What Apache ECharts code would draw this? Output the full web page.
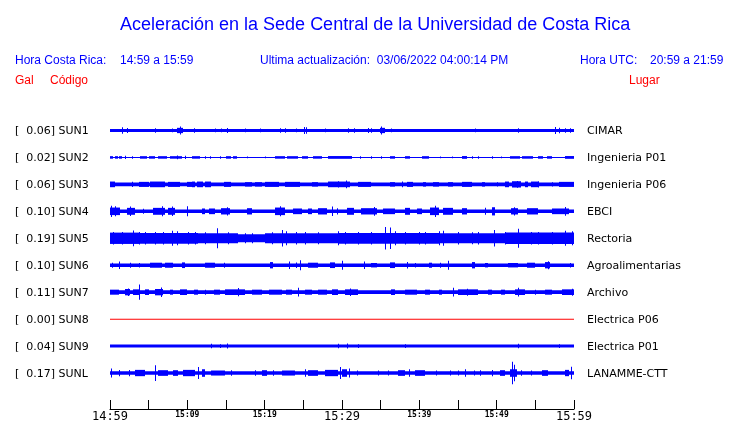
<!DOCTYPE html>
<html>
<head>
<meta charset="utf-8">
<script src="https://cdn.jsdelivr.net/npm/echarts@6/dist/echarts.min.js"></script>
<style>html,body{margin:0;padding:0;background:#fff}#c{width:740px;height:423px}</style>
</head>
<body>
<div id="c"></div>
<script>
// ---- data ----
const codes = ['SUN1','SUN2','SUN3','SUN4','SUN5','SUN6','SUN7','SUN8','SUN9','SUNL'];
const peakGal = [0.06,0.02,0.06,0.10,0.19,0.10,0.11,0.00,0.04,0.17];
const places = ['CIMAR','Ingenieria P01','Ingenieria P06','EBCI','Rectoria','Agroalimentarias','Archivo','Electrica P06','Electrica P01','LANAMME-CTT'];
const tickLabels = ['14:59','15:09','15:19','15:29','15:39','15:49','15:59'];
// background (noise) half-amplitude, Gal
const baseAmp = [0.024,0.008,0.03,0.027,0.062,0.027,0.03,0,0.024,0.027];
// bursts: [startMinute, endMinute, halfAmplitude Gal]
const sun1 = [[1.6,1.6,.053],[2.2,2.2,.04],[5.8,5.8,.035],[8.0,8.0,.03],[8.6,9.5,.042],[9.05,9.05,.062],[10.8,10.8,.035],[13.6,13.6,.03],[14.4,14.4,.03],[15.1,15.1,.04],[17.5,17.5,.03],[19.4,19.4,.03],[22.0,22.0,.035],[22.6,22.6,.035],[24.1,24.1,.03],[25.1,25.1,.055],[25.4,25.4,.05],[27.8,27.8,.03],[30.8,30.8,.035],[31.5,31.5,.035],[33.4,33.4,.04],[33.7,33.7,.035],[34.9,35.6,.042],[35.1,35.1,.062],[36.4,36.4,.03],[47.2,47.2,.03],[52.8,52.8,.035],[57.6,57.6,.055],[58.1,58.1,.045],[58.8,58.8,.035],[59.5,59.5,.035]];
const sun2 = [[0,0.4,.02],[0.6,1.0,.02],[1.2,1.5,.02],[1.9,1.9,.025],[2.8,2.8,.02],[3.9,4.8,.02],[5.1,5.8,.02],[6.25,7.4,.02],[7.7,9.3,.02],[8.6,8.6,.03],[9.7,9.7,.025],[10.6,11.6,.02],[12.3,12.3,.02],[12.9,12.9,.02],[14.2,14.2,.02],[15.0,15.6,.02],[15.9,16.4,.02],[17.7,17.7,.015],[20.0,20.0,.015],[21.3,22.6,.02],[22.9,24.3,.02],[24.8,25.6,.02],[26.3,27.4,.02],[28.2,31.25,.022],[32.3,32.3,.02],[33.8,33.8,.02],[35.1,35.1,.02],[36.2,36.9,.02],[38.1,38.8,.02],[40.3,41.2,.02],[42.7,42.7,.015],[44.2,44.2,.015],[45.5,46.1,.022],[46.8,46.8,.02],[47.6,47.6,.02],[49.4,49.4,.02],[50.6,50.6,.015],[51.7,53.0,.02],[53.3,54.7,.02],[55.4,56.0,.02],[56.5,57.1,.02],[58.8,60,.022]];
const sun3 = [[0,0.6,.045],[2.8,2.8,.04],[3.7,5.0,.04],[5.2,7.1,.045],[7.5,9.05,.04],[9.9,10.6,.04],[10.6,11.0,.045],[11.3,12.0,.045],[12.3,13.1,.045],[14.7,15.7,.04],[17.5,18.3,.035],[18.75,19.6,.035],[20.0,21.8,.04],[22.6,24.6,.04],[26.1,26.9,.035],[28.2,31.0,.045],[29.5,29.5,.05],[30.5,30.5,.06],[32.1,33.8,.04],[36.2,36.9,.035],[37.7,37.7,.045],[38.4,39.2,.04],[40.5,40.9,.035],[41.8,42.5,.035],[43.75,44.4,.035],[45.5,46.8,.04],[48.1,48.5,.035],[50.0,50.0,.035],[51.1,51.6,.045],[52.0,53.2,.05],[52.6,52.6,.055],[53.6,54.0,.045],[54.5,55.4,.045],[55.4,55.4,.05],[57.1,57.1,.035],[58.0,60,.04]];
const sun4 = [[0,1.3,.06],[0.1,0.1,.09],[0.65,0.65,.08],[2.2,3.2,.055],[2.6,2.6,.075],[4.3,4.3,.04],[5.6,7.1,.055],[6.7,6.7,.08],[7.5,8.4,.055],[8.0,8.0,.075],[10.0,10.0,.08],[11.85,12.3,.045],[12.8,13.6,.045],[14.4,15.5,.05],[15.1,15.1,.065],[17.7,18.3,.05],[21.3,22.6,.06],[22.0,22.0,.08],[23.7,24.8,.045],[25.6,26.1,.045],[26.9,28.0,.05],[28.7,28.7,.075],[29.3,29.3,.05],[30.6,31.5,.055],[32.5,34.5,.05],[34.1,34.1,.07],[35.3,36.9,.045],[38.1,38.8,.055],[39.7,40.3,.045],[41.4,42.5,.06],[42.0,42.0,.09],[43.1,44.4,.055],[45.5,46.1,.05],[48.5,48.5,.055],[49.4,49.8,.065],[51.9,52.8,.05],[52.2,52.2,.065],[53.9,55.4,.05],[57.1,59.3,.045],[58.8,58.8,.07]];
const sun5 = [[0,3.7,.09],[3.7,11.4,.085],[11.4,16.6,.08],[20.0,29.5,.08],[29.5,42.5,.085],[42.5,51.1,.08],[51.1,60,.09],
  [0.4,0.4,.1],[1.5,1.5,.1],[3.0,3.0,.125],[3.7,3.7,.1],[4.5,4.5,.1],[5.8,5.8,.1],[6.9,6.9,.1],[8.0,8.0,.12],[8.6,8.6,.11],[10.1,10.1,.1],[11.0,11.0,.1],[12.3,12.3,.095],[13.8,13.8,.16],[15.3,15.3,.095],[17.5,17.5,.08],[18.3,18.3,.08],[20.9,20.9,.095],[22.2,22.2,.13],[22.8,22.8,.11],[24.1,24.1,.1],[25.2,25.2,.1],[26.9,26.9,.095],[29.5,29.5,.11],[30.4,30.4,.1],[32.1,32.1,.1],[33.8,33.8,.1],[35.6,35.6,.18],[36.2,36.2,.17],[36.9,36.9,.11],[38.1,38.1,.1],[39.9,39.9,.1],[40.7,40.7,.1],[42.5,42.5,.11],[43.1,43.1,.12],[45.0,45.0,.1],[46.8,46.8,.095],[47.6,47.6,.1],[49.6,49.6,.13],[51.1,51.1,.1],[52.8,52.8,.15],[54.5,54.5,.1],[55.4,55.4,.1],[57.1,57.1,.1],[58.8,58.8,.12],[59.7,59.7,.11]];
const sun6 = [[0.2,0.2,.04],[1.1,1.1,.06],[2.6,2.6,.04],[3.7,3.7,.035],[5.2,6.7,.04],[7.1,8.2,.04],[9.3,9.7,.045],[12.3,13.6,.04],[14.7,14.7,.04],[20.7,21.1,.05],[23.2,23.2,.06],[24.1,24.1,.045],[24.6,24.6,.08],[25.6,26.9,.04],[28.4,29.1,.045],[30.0,30.0,.07],[32.8,32.8,.06],[33.8,34.5,.035],[36.2,36.9,.045],[38.4,38.4,.05],[39.4,39.4,.035],[41.2,41.6,.04],[42.7,42.7,.04],[43.75,43.75,.07],[46.8,47.2,.05],[48.5,48.9,.035],[51.5,52.8,.035],[53.9,55.0,.04],[56.3,56.9,.05],[56.6,56.6,.065],[59.5,59.5,.035]];
const sun7 = [[0,1.1,.04],[1.9,2.6,.05],[2.3,2.3,.06],[3.0,3.7,.045],[3.8,3.8,.12],[4.5,5.0,.045],[5.8,6.9,.05],[6.6,6.6,.075],[7.8,8.2,.04],[9.05,9.9,.045],[10.8,11.4,.04],[12.3,12.3,.04],[13.4,14.2,.04],[14.9,17.5,.045],[16.6,16.6,.065],[18.3,19.6,.04],[20.5,22.2,.04],[22.8,23.5,.04],[24.3,24.3,.07],[25.2,26.1,.04],[26.9,28.0,.04],[28.7,29.5,.045],[30.4,32.1,.045],[31.0,31.0,.06],[36.4,36.9,.045],[38.1,39.7,.04],[40.7,41.4,.04],[42.5,42.9,.04],[44.4,44.4,.07],[45.0,47.6,.045],[46.1,46.1,.055],[48.9,49.4,.04],[50.6,51.1,.04],[52.4,53.7,.045],[52.8,52.8,.07],[55.0,55.0,.04],[56.25,57.1,.04],[58.4,60,.045],[59.7,59.7,.055]];
const sun8 = [];
const sun9 = [[13.1,13.1,.035],[14.2,14.2,.03],[15.1,15.1,.04],[29.5,29.5,.035],[30.6,30.6,.04],[32.1,32.1,.03],[38.1,38.1,.03],[52.8,52.8,.035],[58.0,58.0,.03]];
const sunL = [[0.1,0.1,.07],[1.1,1.3,.05],[2.4,2.4,.05],[3.2,4.5,.05],[5.8,5.8,.125],[6.25,7.5,.045],[8.2,8.8,.045],[9.5,11.0,.05],[11.4,11.4,.095],[11.85,12.3,.06],[13.1,14.9,.04],[15.7,15.7,.045],[18.75,18.75,.045],[19.6,20.3,.045],[21.1,21.1,.045],[22.2,23.9,.04],[25.2,25.2,.06],[25.6,26.9,.045],[27.8,29.5,.05],[29.8,29.8,.095],[30.0,30.6,.06],[30.95,30.95,.07],[31.9,31.9,.04],[34.7,34.7,.04],[36.0,36.0,.04],[37.3,38.1,.045],[38.7,38.7,.06],[39.4,40.7,.045],[42.2,42.2,.04],[43.97,43.97,.04],[45.0,45.0,.04],[45.9,45.9,.06],[47.1,47.1,.04],[47.9,47.9,.045],[49.4,49.4,.05],[50.4,51.1,.045],[51.7,52.6,.06],[52.0,52.0,.18],[52.3,52.3,.13],[53.2,53.2,.045],[54.5,54.5,.04],[55.9,56.6,.045],[58.8,59.3,.05],[59.6,59.6,.1]];
const bursts = [sun1,sun2,sun3,sun4,sun5,sun6,sun7,sun8,sun9,sunL];

// ---- style ----
const GAIN = 63;           // px per Gal
const TRACE = '#0000ff';
const DEAD = '#ff0000';
const LABEL_FONT = 'DejaVu Sans';

const chart = echarts.init(document.getElementById('c'), null, {renderer:'canvas'});

const series = codes.map((code, i) => ({
  type: 'custom',
  name: code,
  silent: true,
  animation: false,
  coordinateSystem: 'cartesian2d',
  encode: {x: [0, 1], y: 3},
  data: [[0, 60, baseAmp[i], i + 0.5]].concat(bursts[i].map(b => [b[0], b[1], b[2], i + 0.5])),
  renderItem: (params, api) => {
    const t0 = api.value(0), t1 = api.value(1), amp = api.value(2), row = api.value(3);
    const p0 = api.coord([t0, row]);
    const p1 = api.coord([t1, row]);
    const x0 = Math.round(p0[0]);
    const w = Math.max(Math.round(p1[0]) - x0, 1);
    const h = amp * GAIN;
    const cy = p0[1];
    const dead = peakGal[i] === 0;
    const hh = Math.max(h, 0.5);
    return {
      type: 'rect',
      shape: {x: x0, y: cy - hh, width: w, height: hh * 2},
      style: {fill: dead ? DEAD : TRACE}
    };
  }
}));

series.push({
  type: 'custom',
  name: 'labels',
  silent: true,
  animation: false,
  encode: {x: 0, y: 1},
  data: codes.map((c, i) => [60, i + 0.5]),
  renderItem: (params, api) => {
    const i = params.dataIndex;
    const p = api.coord([api.value(0), api.value(1)]);
    return {
      type: 'group',
      children: [
        {type: 'text', style: {x: 15, y: p[1] + 1, text: '[  ' + peakGal[i].toFixed(2) + '] ' + codes[i],
          fill: '#000', fontSize: 11, fontFamily: LABEL_FONT, align: 'left', verticalAlign: 'middle'}},
        {type: 'text', style: {x: p[0] + 13, y: p[1] + 1, text: places[i],
          fill: '#000', fontSize: 11, fontFamily: LABEL_FONT, align: 'left', verticalAlign: 'middle'}}
      ]
    };
  }
});

const hdr = (text, x, y, color) => ({type: 'text', left: x, top: y,
  style: {text, fill: color, fontSize: 12, fontFamily: 'Liberation Sans'}});

chart.setOption({
  backgroundColor: '#fff',
  animation: false,
  title: {
    text: 'Aceleración en la Sede Central de la Universidad de Costa Rica',
    left: 115, top: 11,
    textStyle: {color: '#0000ff', fontSize: 18, fontWeight: 'normal', fontFamily: 'Liberation Sans'}
  },
  graphic: [
    hdr('Hora Costa Rica:', 15, 55, '#0000ff'),
    hdr('14:59 a 15:59', 120, 55, '#0000ff'),
    hdr('Ultima actualización:  03/06/2022 04:00:14 PM', 260, 55, '#0000ff'),
    hdr('Hora UTC:', 580, 55, '#0000ff'),
    hdr('20:59 a 21:59', 650, 55, '#0000ff'),
    hdr('Gal', 15, 75, '#ff0000'),
    hdr('Código', 50, 75, '#ff0000'),
    hdr('Lugar', 629, 75, '#ff0000')
  ],
  grid: {left: 110, right: 166, top: 117, height: 270, containLabel: false},
  xAxis: {
    type: 'value', min: 0, max: 60, interval: 5,
    position: 'bottom',
    offset: 22.5,
    splitLine: {show: false},
    axisLine: {show: true, onZero: false, lineStyle: {color: '#000', width: 1}},
    axisTick: {show: true, inside: true, length: 9, lineStyle: {color: '#000', width: 1}},
    axisLabel: {
      margin: 2,
      showMinLabel: true, showMaxLabel: true,
      formatter: v => {
        const idx = v / 10;
        if (!Number.isInteger(idx)) return '';
        const lab = tickLabels[idx];
        return idx % 3 === 0 ? '{big|' + lab + '}' : '{small|' + lab + '}';
      },
      rich: {
        big: {fontSize: 12, fontFamily: 'DejaVu Sans Mono', color: '#000'},
        small: {fontSize: 8, fontWeight: 'bold', fontFamily: 'DejaVu Sans Mono', color: '#000'}
      }
    }
  },
  yAxis: {type: 'value', min: 0, max: 10, inverse: true, show: false},
  series
});
</script>
</body>
</html>
